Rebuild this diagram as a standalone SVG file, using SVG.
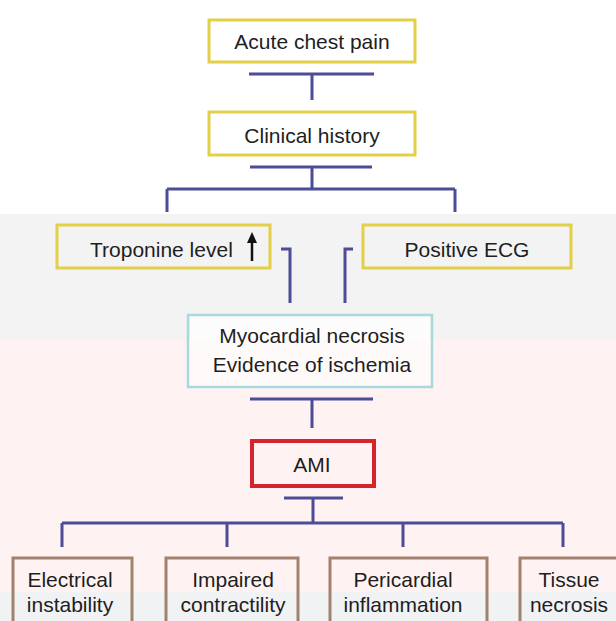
<svg xmlns="http://www.w3.org/2000/svg" width="616" height="621" viewBox="0 0 616 621">
  <defs>
    <style>
      .lbl { font-family: "Liberation Sans", Arial, sans-serif; font-size: 21px; fill: #1e1e1e; }
      .mid { text-anchor: middle; }
      .yel { fill: none; stroke: #e3cf4a; stroke-width: 3; }
      .cyn { fill: none; stroke: #a9d9dc; stroke-width: 2.5; }
      .red { fill: none; stroke: #d3262c; stroke-width: 4; }
      .brn { fill: none; stroke: #a1826f; stroke-width: 3; }
      .wire { fill: none; stroke: #4d4c98; stroke-width: 3; }
    </style>
  </defs>

  <!-- background tints -->
  <rect x="0" y="0" width="616" height="621" fill="#ffffff"/>
  <rect x="0" y="214" width="616" height="126" fill="#f3f3f3"/>
  <rect x="190" y="316" width="240" height="70" fill="#fdfcfc"/>
  <rect x="0" y="340" width="616" height="252" fill="#fef3f2"/>
  <rect x="0" y="592" width="616" height="29" fill="#f1f2f4"/>

  <!-- connectors -->
  <g id="connectors" class="wire">
    <path d="M249,74 H374 M312,74 V100"/>
    <path d="M250,167 H372 M312,167 V189 M167,189 H455 M167,189 V212 M455,189 V212"/>
    <path d="M281,249 H290 V303"/>
    <path d="M353,249 H345 V303"/>
    <path d="M250,399 H373 M312,399 V428"/>
    <path d="M284,498 H343 M313,498 V523 M62,523 H563 M62,523 V547 M227,523 V547 M403,523 V547 M563,523 V547"/>
  </g>

  <g id="acute-chest-pain">
    <rect class="yel" x="209" y="20" width="206" height="42"/>
    <text class="lbl mid" x="312" y="49">Acute chest pain</text>
  </g>

  <g id="clinical-history">
    <rect class="yel" x="209" y="112" width="206" height="43"/>
    <text class="lbl mid" x="312" y="143">Clinical history</text>
  </g>

  <g id="troponine-level">
    <rect class="yel" x="57" y="225" width="213" height="43"/>
    <text class="lbl" x="90" y="257">Troponine level</text>
    <!-- rising arrow -->
    <line x1="252" y1="261" x2="252" y2="240" stroke="#111" stroke-width="2.5"/>
    <polygon points="252,232 247,243 257,243" fill="#111"/>
  </g>

  <g id="positive-ecg">
    <rect class="yel" x="363" y="225" width="208" height="43"/>
    <text class="lbl mid" x="467" y="257">Positive ECG</text>
  </g>

  <g id="myocardial-necrosis">
    <rect x="189" y="340" width="242" height="46" fill="#fefafa"/>
    <rect class="cyn" x="188" y="315" width="244" height="72"/>
    <text class="lbl mid" x="312" y="343">Myocardial necrosis</text>
    <text class="lbl mid" x="312" y="372">Evidence of ischemia</text>
  </g>

  <g id="ami">
    <rect class="red" x="252" y="441" width="122" height="45"/>
    <text class="lbl mid" x="312" y="472">AMI</text>
  </g>

  <g id="electrical-instability">
    <rect class="brn" x="13" y="558" width="119" height="80"/>
    <text class="lbl mid" x="70" y="587">Electrical</text>
    <text class="lbl mid" x="70" y="612">instability</text>
  </g>

  <g id="impaired-contractility">
    <rect class="brn" x="166" y="558" width="132" height="80"/>
    <text class="lbl mid" x="233" y="587">Impaired</text>
    <text class="lbl mid" x="233" y="612">contractility</text>
  </g>

  <g id="pericardial-inflammation">
    <rect class="brn" x="330" y="558" width="157" height="80"/>
    <text class="lbl mid" x="403" y="587">Pericardial</text>
    <text class="lbl mid" x="403" y="612">inflammation</text>
  </g>

  <g id="tissue-necrosis">
    <rect class="brn" x="520" y="558" width="110" height="80"/>
    <text class="lbl mid" x="569" y="587">Tissue</text>
    <text class="lbl mid" x="569" y="612">necrosis</text>
  </g>
</svg>
